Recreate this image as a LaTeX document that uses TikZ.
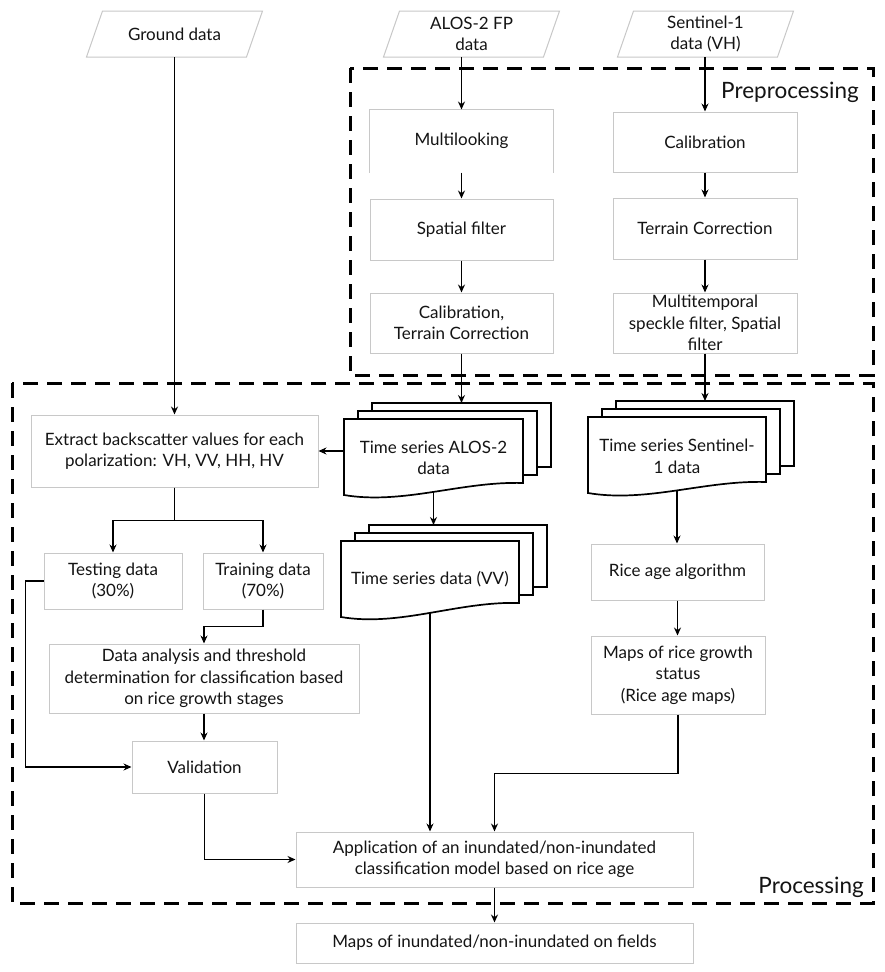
\documentclass[tikz,border=0pt]{standalone}
\usepackage{fontspec}
\setmainfont{Lato}
\usetikzlibrary{arrows.meta,calc}
\definecolor{boxgray}{HTML}{C8C8C8}
\definecolor{txt}{HTML}{141414}
\newcommand\fs{\fontsize{17}{21.5}\selectfont}
\newcommand\fl{\fontsize{22.5}{26}\selectfont}
\newcommand\DocStack[7]{%
  \draw[stk] ({#2+28},{#3-16}) rectangle ({#2+28+#4},{#3-16+#5});
  \draw[stk] ({#2+14},{#3-8}) rectangle ({#2+14+#4},{#3-8+#5});
  \draw[stk] (#2,#3) -- ({#2+#4},#3) -- ({#2+#4},{#3+#5}) .. controls ({#2+0.66*#4},{#3+#5-2}) and ({#2+0.33*#4},{#3+#5+#6+10}) .. (#2,{#3+#5+#6}) -- cycle;
  \node[inner sep=0pt, minimum width=#4, minimum height=#5] (#1) at ({#2+#4/2},{#3+#5/2}) {};
  \coordinate (#1b) at ({#2+28+#4/2},{#3-16});
  \coordinate (#1o) at ({#2+#4/2},{#3+#5+#6/2+3});
  \node[font=\fs, align=center, text=txt, inner sep=0pt] (#1t) at ({#2+#4/2},{#3+#5/2+7}) {#7};
}
\newcommand\ParaNode[4]{%
  \node[inner sep=0pt, minimum width=150pt, minimum height=46pt, font=\fs, align=center, text=txt] (#1) at (#2,#3) {#4};
  \draw[paraline] ($(#1.center)+(-88,23)$) -- ($(#1.center)+(72,23)$) -- ($(#1.center)+(88,-23)$) -- ($(#1.center)+(-72,-23)$) -- cycle;
}
\begin{document}
\begin{tikzpicture}[x=1pt,y=-1pt,
  box/.style={draw=boxgray, line width=1pt, fill=white, inner sep=0pt, align=center, text=txt, font=\fs},
  boxline/.style={draw=boxgray, line width=1pt},
  paraline/.style={draw=boxgray, line width=1pt},
  arr/.style={line width=1.7pt, -{Stealth[length=8pt,width=7pt]}},
  stk/.style={draw=black, line width=1.7pt, fill=white, line join=miter},
  dashbox/.style={line width=3pt, dash pattern=on 15pt off 9pt}]
\useasboundingbox (0,0) rectangle (884,972);
\fill[white] (0,0) rectangle (884,972);

% group boxes
\draw[dashbox] (350,68) rectangle (873,375);
\draw[dashbox] (12,383) rectangle (873,903);
\node[anchor=base east, font=\fl, text=txt, inner sep=0pt] (prelab) at (859,98) {Preprocessing};
\node[anchor=base east, font=\fl, text=txt, inner sep=0pt] (proclab) at (864,893) {Processing};

% inputs
\ParaNode{ground}{174.5}{34}{Ground data}
\ParaNode{alos}{471.5}{34}{ALOS-2 FP\\data}
\ParaNode{sone}{705.5}{34}{Sentinel-1\\data (VH)}

% preprocessing ALOS
\node[box, draw=none, minimum width=183, minimum height=62] (multi) at (461.5,141) {Multilooking};
\draw[boxline] (multi.south west) -- (multi.north west) -- (multi.north east) -- (multi.south east);
\node[box, minimum width=183, minimum height=61] (spatial) at (461.5,229.5) {Spatial filter};
\node[box, minimum width=183, minimum height=60] (calt) at (461.5,323) {Calibration,\\Terrain Correction};

% preprocessing Sentinel
\node[box, minimum width=184, minimum height=60] (cal) at (705,142) {Calibration};
\node[box, minimum width=184, minimum height=61] (terr) at (705,228.5) {Terrain Correction};
\node[box, minimum width=184, minimum height=60] (mtemp) at (705,323) {Multitemporal\\speckle filter, Spatial\\filter};

% stacks
\DocStack{alosts}{344}{419}{179}{64}{12}{Time series ALOS-2\\data}
\DocStack{vvts}{341}{541}{178}{62}{14}{Time series data (VV)}
\DocStack{sonets}{588}{417}{178}{65}{11}{Time series Sentinel-\\1 data}

% processing boxes
\node[box, minimum width=287, minimum height=72] (extract) at (174.5,451) {Extract backscatter values for each\\polarization: VH, VV, HH, HV};
\node[box, minimum width=138, minimum height=56] (testing) at (113,581) {Testing data\\(30\%)};
\node[box, minimum width=120, minimum height=56] (training) at (263,581) {Training data\\(70\%)};
\node[box, minimum width=310, minimum height=69] (analysis) at (204,678.5) {Data analysis and threshold\\determination for classification based\\on rice growth stages};
\node[box, minimum width=145, minimum height=52] (valid) at (204.5,767) {Validation};
\node[box, minimum width=397, minimum height=55] (appl) at (494.5,859.5) {Application of an inundated/non-inundated\\classification model based on rice age};
\node[box, minimum width=397, minimum height=40] (mapsinund) at (494.5,943) {Maps of inundated/non-inundated on fields};
\node[box, minimum width=173, minimum height=56] (riceage) at (677.5,572) {Rice age algorithm};
\node[box, minimum width=174, minimum height=78] (mapsrice) at (678,675) {Maps of rice growth\\status\\(Rice age maps)};

% connectors
\draw[arr] (ground.south) -- (ground.south |- extract.north);
\draw[arr] (multi.north |- alos.south) -- (multi.north);
\draw[arr] (multi.south) -- (spatial.north);
\draw[arr] (spatial.south) -- (calt.north);
\draw[arr] (calt.south) -- (calt.south |- alostsb);
\draw[arr] (cal.north |- sone.south) -- (cal.north);
\draw[arr] (cal.south) -- (terr.north);
\draw[arr] (terr.south) -- (mtemp.north);
\draw[arr] (mtemp.south) -- (mtemp.south |- sonetsb);
\draw[arr] (alosts.west) -- (extract.east);
\draw[arr] (alostso) -- (alostso |- vvtsb);
\draw[arr] (extract.south) -- ++(0,33) -| (testing.north);
\draw[arr] (extract.south) -- ++(0,33) -| (training.north);
\draw[arr] (training.south) -- ++(0,17) -| (analysis.north);
\draw[arr] (analysis.south) -- (analysis.south |- valid.north);
\draw[arr] (testing.west) -- ++(-18,0) |- (valid.west);
\draw[arr] (valid.south) |- (appl.west);
\draw[arr] (vvtso) -- (vvtso |- appl.north);
\draw[arr] (sonetso) -- (sonetso |- riceage.north);
\draw[arr] (riceage.south) -- (riceage.south |- mapsrice.north);
\draw[arr] (mapsrice.south) -- ++(0,59) -| (appl.north);
\draw[arr] (appl.south) -- (mapsinund.north);
\end{tikzpicture}
\end{document}
